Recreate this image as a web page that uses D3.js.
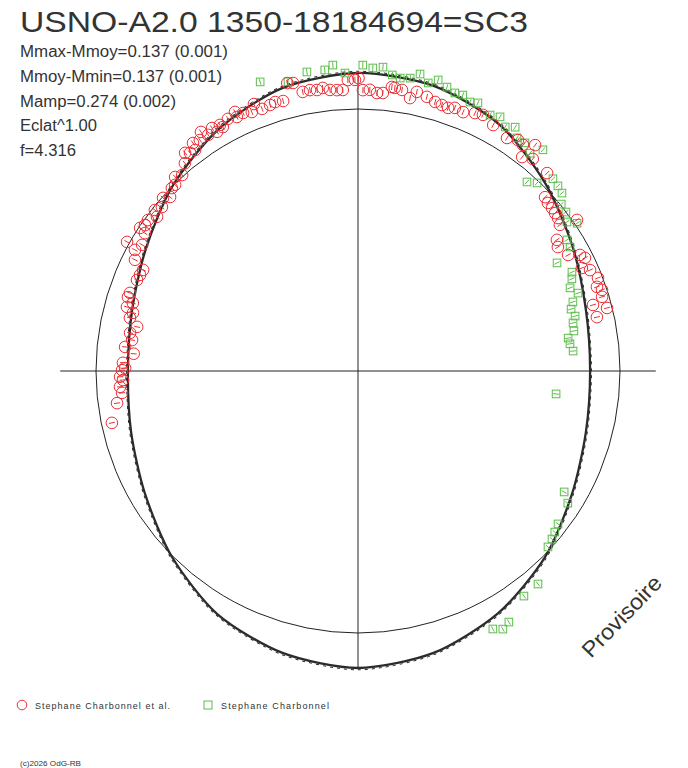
<!DOCTYPE html>
<html>
<head>
<meta charset="utf-8">
<script src="https://cdn.jsdelivr.net/npm/d3@7"></script>
<style>
  html, body { margin: 0; padding: 0; background: #fff; }
  svg { display: block; }
  text { font-family: "Liberation Sans", Arial, sans-serif; fill: #333; }
</style>
</head>
<body>
<div id="chart"></div>
<script>
// ---- data (phase angle in degrees, clockwise from top ; dm = magnitude offset from mean, + = brighter)
var titleText = "USNO-A2.0 1350-18184694=SC3";
var statLines = ["Mmax-Mmoy=0.137 (0.001)", "Mmoy-Mmin=0.137 (0.001)", "Mamp=0.274 (0.002)", "Eclat^1.00", "f=4.316"];
var seriesNames = ["Stephane Charbonnel et al.", "Stephane Charbonnel"];

var redPhase = [258.1, 262.4, 266.2, 264.7, 268.6, 267.8, 270.2, 270.7, 272.0, 275.9, 274.4, 277.8, 279.5, 281.3,
  283.1, 284.5, 285.5, 286.8, 287.8, 288.9, 292.4, 293.8, 295.2, 296.5, 298.5, 300.3, 299.2, 302.9, 303.3, 304.4,
  305.7, 307.5, 308.4, 309.9, 311.6, 312.8, 315.5, 314.5, 316.7, 318.1, 320.2, 321.6, 322.4, 323.6, 324.1, 325.6,
  326.7, 327.6, 329.0, 329.5, 330.7, 331.0, 332.7, 334.6, 334.5, 336.0, 337.7, 338.7, 339.9, 341.7, 342.9, 344.5,
  346.2, 347.3, 348.8, 350.3, 351.7, 352.9, 354.3, 355.7, 356.9, 358.0, 359.4,
  0.1, 1.0, 2.4, 3.9, 5.1, 6.8, 7.4, 8.9, 10.8, 11.9, 14.1, 16.0, 17.5, 18.9, 20.2, 22.1, 24.4, 26.0, 28.8, 32.6,
  34.7, 36.1, 38.1, 37.5, 39.5, 43.7, 47.1, 48.5, 50.0, 51.3, 52.6, 54.1, 55.4, 56.6, 58.2, 61.1, 62.4, 63.5, 65.3,
  66.5, 68.8, 70.6, 71.6, 73.1, 74.3, 75.8, 77.3];
var redDm = [-0.041, -0.074, -0.092, -0.098, -0.094, -0.105, -0.102, -0.114, -0.105, -0.109, -0.145, -0.133, -0.121, -0.144,
  -0.109, -0.116, -0.087, -0.105, -0.080, -0.082, -0.090, -0.093, -0.096, -0.050, -0.032, -0.047, 0.010, -0.032, -0.005, -0.015,
  -0.013, -0.034, -0.011, -0.025, -0.005, -0.023, -0.004, -0.004, 0.018, 0.005, 0.033, 0.064, 0.052, 0.049, 0.076, 0.070,
  0.094, 0.069, 0.084, 0.061, 0.079, 0.066, 0.085, 0.097, 0.076, 0.080, 0.070, 0.096, 0.067, 0.071, 0.076, 0.071,
  0.135, 0.130, 0.088, 0.090, 0.086, 0.091, 0.080, 0.077, 0.076, 0.114, 0.114,
  0.121, 0.074, 0.076, 0.065, 0.067, 0.094, 0.092, 0.088, 0.062, 0.091, 0.081, 0.070, 0.066, 0.063, 0.072, 0.068, 0.083, 0.090, 0.073, 0.057,
  0.074, 0.070, 0.098, 0.030, 0.050, 0.046, -0.026, -0.033, -0.034, -0.037, -0.040, -0.050, 0.016, -0.093, -0.105, -0.086, -0.045, -0.033, -0.061,
  -0.035, -0.018, -0.034, -0.019, -0.027, -0.070, -0.020, -0.067];

var greenPhase = [341.3, 346.4, 350.3, 353.7, 355.3, 357.5, 0.9, 2.8, 4.7, 6.6, 8.2, 10.1, 11.8, 13.7, 15.4, 17.4,
  19.2, 20.8, 22.6, 24.1, 27.3, 29.2, 31.1, 32.8, 34.3, 36.2, 38.3, 39.9, 41.8, 43.6, 45.4, 47.2, 48.9, 50.6, 52.6,
  54.5, 56.0, 57.9, 59.7, 61.5, 65.2, 66.7, 68.6, 70.5, 72.2, 73.8, 75.8, 77.4, 79.5, 81.1, 82.7, 84.7, 96.6,
  120.4, 122.2, 127.4, 129.3, 130.9, 132.8, 139.8, 143.6, 149.0, 152.4, 150.7];
var greenDm = [0.169, 0.139, 0.162, 0.160, 0.176, 0.142, 0.172, 0.162, 0.168, 0.141, 0.133, 0.139, 0.162, 0.135, 0.156, 0.139,
  0.127, 0.130, 0.115, 0.124, 0.102, 0.114, 0.090, 0.110, 0.079, 0.081, 0.061, 0.103, -0.033, -0.009, 0.046, 0.041, 0.034, 0.004, -0.001,
  -0.021, 0.009, -0.060, -0.064, -0.139, -0.103, -0.114, -0.134, -0.112, -0.142, -0.157, -0.149, -0.163, -0.166, -0.193, -0.189, -0.180, -0.245,
  -0.090, -0.055, -0.040, -0.030, -0.021, -0.012, 0.066, 0.069, 0.121, 0.114, 0.133];

// fitted light curve, read every 15 degrees
var fitPhase = [0, 15, 30, 45, 60, 75, 90, 105, 120, 135, 150, 165, 180, 195, 210, 225, 240, 255, 270, 285, 300, 315, 330, 345];
var fitDm = [0.141, 0.129, 0.086, 0.012, -0.055, -0.102, -0.117, -0.102, -0.059, 0.008, 0.070, 0.117,
  0.137, 0.117, 0.074, 0.004, -0.063, -0.106, -0.125, -0.110, -0.067, 0.000, 0.067, 0.121];

var ampMax = 0.137;
var axisMax = 0.14;

// ---- layout
var width = 688, height = 768;
var cx = 358, cy = 371;
var redColor = "#ec3036", greenColor = "#5cbd4a", inkColor = "#222";

var svg = d3.select("#chart").append("svg")
    .attr("width", width)
    .attr("height", height);

var angle = d3.scaleLinear().domain([0, 360]).range([0, 2 * Math.PI]);
var radius = d3.scaleLinear().domain([0, ampMax]).range([262, 297]);

// title + stats
svg.append("text")
    .attr("x", 20).attr("y", 32)
    .attr("font-size", "30px")
    .attr("textLength", 508).attr("lengthAdjust", "spacingAndGlyphs")
    .text(titleText);

var statWidths = [208, 202, 156, 77, 56];
svg.selectAll("text.stat")
    .data(statLines)
    .enter().append("text")
    .classed("stat", true)
    .attr("x", 20)
    .attr("y", function(d, i){ return 57 + i * 24.8; })
    .attr("font-size", "16px")
    .attr("textLength", function(d, i){ return statWidths[i]; })
    .attr("lengthAdjust", "spacingAndGlyphs")
    .text(function(d){ return d; });

var plot = svg.append("g").attr("transform", "translate(" + cx + "," + cy + ")");

// axes
var ax = radius(axisMax);
plot.append("line").attr("x1", -ax).attr("x2", ax).attr("y1", 0).attr("y2", 0)
    .attr("stroke", inkColor).attr("stroke-width", 1);
plot.append("line").attr("x1", 0).attr("x2", 0).attr("y1", -ax).attr("y2", ax)
    .attr("stroke", inkColor).attr("stroke-width", 1);

// mean circle
plot.append("circle")
    .attr("r", radius(0))
    .attr("fill", "none")
    .attr("stroke", inkColor)
    .attr("stroke-width", 1);

// fit curve
var fitData = fitPhase.map(function(p, i){ return {p: p, dm: fitDm[i]}; });
var fitLine = d3.lineRadial()
    .angle(function(d){ return angle(d.p); })
    .radius(function(d){ return radius(d.dm); })
    .curve(d3.curveCardinalClosed.tension(0.2));

plot.append("path")
    .attr("d", fitLine(fitData))
    .attr("fill", "none")
    .attr("stroke", "#2b2b2b")
    .attr("stroke-width", 2.3);
plot.append("path")
    .attr("d", fitLine(fitData))
    .attr("fill", "none")
    .attr("stroke", "#2b2b2b")
    .attr("stroke-width", 1)
    .attr("stroke-dasharray", "3,4")
    .attr("transform", "scale(1.006)");

function radialTick(sel, color){
    sel.append("line")
        .attr("x1", function(d){ return d3.pointRadial(angle(d.p), radius(d.dm) - 3)[0]; })
        .attr("y1", function(d){ return d3.pointRadial(angle(d.p), radius(d.dm) - 3)[1]; })
        .attr("x2", function(d){ return d3.pointRadial(angle(d.p), radius(d.dm) + 3)[0]; })
        .attr("y2", function(d){ return d3.pointRadial(angle(d.p), radius(d.dm) + 3)[1]; })
        .attr("stroke", color)
        .attr("stroke-width", 1);
}

// green squares
var greenData = greenPhase.map(function(p, i){ return {p: p, dm: greenDm[i]}; });
var greens = plot.selectAll("g.green")
    .data(greenData)
    .enter().append("g").classed("green", true);
greens.append("rect")
    .attr("x", function(d){ return d3.pointRadial(angle(d.p), radius(d.dm))[0] - 3.8; })
    .attr("y", function(d){ return d3.pointRadial(angle(d.p), radius(d.dm))[1] - 3.8; })
    .attr("width", 7.6).attr("height", 7.6)
    .attr("fill", "none")
    .attr("stroke", greenColor)
    .attr("stroke-width", 1);
radialTick(greens, greenColor);

// red circles
var redData = redPhase.map(function(p, i){ return {p: p, dm: redDm[i]}; });
var reds = plot.selectAll("g.red")
    .data(redData)
    .enter().append("g").classed("red", true);
reds.append("circle")
    .attr("cx", function(d){ return d3.pointRadial(angle(d.p), radius(d.dm))[0]; })
    .attr("cy", function(d){ return d3.pointRadial(angle(d.p), radius(d.dm))[1]; })
    .attr("r", 5.8)
    .attr("fill", "none")
    .attr("stroke", redColor)
    .attr("stroke-width", 1);
radialTick(reds, redColor);

// watermark
svg.append("text")
    .attr("transform", "translate(591,659) rotate(-46)")
    .attr("font-size", "22px")
    .attr("textLength", 104).attr("lengthAdjust", "spacingAndGlyphs")
    .text("Provisoire");

// legend
var legend = svg.append("g");
legend.append("circle")
    .attr("cx", 22).attr("cy", 705).attr("r", 4.8)
    .attr("fill", "none").attr("stroke", redColor).attr("stroke-width", 1);
legend.append("rect")
    .attr("x", 204).attr("y", 701).attr("width", 8).attr("height", 8)
    .attr("fill", "none").attr("stroke", greenColor).attr("stroke-width", 1);
legend.selectAll("text.leg")
    .data(seriesNames)
    .enter().append("text")
    .classed("leg", true)
    .attr("x", function(d, i){ return i == 0 ? 35 : 221; })
    .attr("y", 709)
    .attr("font-size", "9px")
    .attr("textLength", function(d, i){ return i == 0 ? 135 : 108; })
    .attr("lengthAdjust", "spacing")
    .text(function(d){ return d; });

svg.append("text")
    .attr("x", 20).attr("y", 766)
    .attr("font-size", "7.5px")
    .attr("textLength", 61).attr("lengthAdjust", "spacingAndGlyphs")
    .text("(c)2026 OdG-RB");
</script>
</body>
</html>
